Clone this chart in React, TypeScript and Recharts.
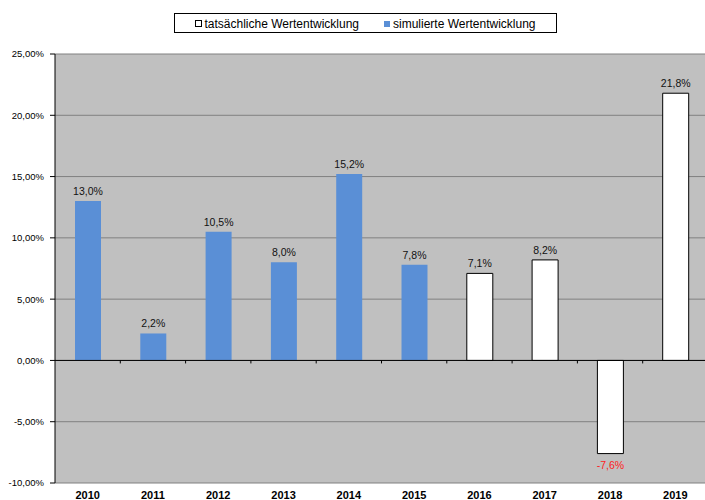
import { BarChart, Bar, XAxis, YAxis, CartesianGrid, ReferenceLine, LabelList, Legend } from 'recharts';

const years = ['2010', '2011', '2012', '2013', '2014', '2015', '2016', '2017', '2018', '2019'];
// simulierte Werte bis 2015, danach tatsächliche
const simulated = [13.0, 2.2, 10.5, 8.0, 15.2, 7.8, null, null, null, null];
const actual = [null, null, null, null, null, null, 7.1, 8.2, -7.6, 21.8];
const yTicks = [-10, -5, 0, 5, 10, 15, 20, 25];

const data = years.map((year, i) => ({ year, sim: simulated[i], ist: actual[i] }));

const BLUE = '#5a8fd6';
const FONT = '"Liberation Sans", Arial, sans-serif';
const fmtPct = (v: number) => v.toFixed(1).replace('.', ',') + '%';

const BarLabel = (props: any) => {
  const { x, y, width, height, value } = props;
  if (value === null || value === undefined) return null;
  const top = Math.min(y, y + height);
  const bottom = Math.max(y, y + height);
  const neg = value < 0;
  return (
    <text
      x={x + width / 2}
      y={neg ? bottom + 15 : top - 6}
      textAnchor="middle"
      fontSize={10.5}
      fontFamily={FONT}
      fill={neg ? '#ff2020' : '#111'}
    >
      {fmtPct(value)}
    </text>
  );
};

// Nulllinie mit kleinen Strichen zwischen den Kategorien
const ZeroLine = (props: any) => {
  const { x1, y1, x2 } = props;
  const step = (x2 - x1) / years.length;
  return (
    <g>
      <line x1={x1} y1={y1} x2={x2} y2={y1} stroke="#000" strokeWidth={1} />
      {years.slice(1).map((_, i) => (
        <line key={i} x1={x1 + step * (i + 1)} y1={y1} x2={x1 + step * (i + 1)} y2={y1 + 3} stroke="#000" />
      ))}
    </g>
  );
};

const LegendBox = () => (
  <div
    style={{
      boxSizing: 'border-box',
      border: '1px solid #000',
      background: '#fff',
      height: 20,
      paddingTop: 1,
      display: 'flex',
      alignItems: 'center',
      justifyContent: 'center',
      fontSize: 12,
      fontFamily: FONT,
      color: '#000',
      gap: 25,
    }}
  >
    <span style={{ display: 'flex', alignItems: 'center' }}>
      <span style={{ width: 5, height: 5, border: '1px solid #000', background: '#fff', marginRight: 2 }} />
      tatsächliche Wertentwicklung
    </span>
    <span style={{ display: 'flex', alignItems: 'center' }}>
      <span style={{ width: 6, height: 6, background: BLUE, marginRight: 3 }} />
      simulierte Wertentwicklung
    </span>
  </div>
);

export default function App() {
  return (
    <div
      style={{
        position: 'fixed',
        top: 0,
        left: 0,
        width: 705,
        height: 500,
        overflow: 'hidden',
        background: '#fff',
        fontFamily: FONT,
      }}
    >
      <BarChart width={708} height={500} data={data} margin={{ top: 54, right: 0, left: 0, bottom: 0 }}>
        <CartesianGrid vertical={false} fill="#c0c0c0" stroke="#808080" />
        <XAxis
          dataKey="year"
          axisLine={false}
          tickLine={false}
          height={17}
          tickSize={6}
          tick={{ fontSize: 11, fontWeight: 'bold', fill: '#000', fontFamily: FONT }}
        />
        <YAxis
          width={55}
          domain={[-10, 25]}
          ticks={yTicks}
          interval={0}
          tickFormatter={(v: number) => v.toFixed(2).replace('.', ',') + '%'}
          tick={{ fontSize: 9.5, fill: '#000', fontFamily: FONT }}
          tickSize={5}
          tickMargin={6}
          axisLine={{ stroke: '#000' }}
          tickLine={{ stroke: '#000' }}
        />
        <Legend
          verticalAlign="middle"
          layout="horizontal"
          content={<LegendBox />}
          wrapperStyle={{ top: 13, left: 174, width: 383 }}
        />
        <ReferenceLine y={0} shape={ZeroLine} />
        <Bar dataKey="sim" name="simulierte Wertentwicklung" stackId="a" fill={BLUE} barSize={26} isAnimationActive={false}>
          <LabelList dataKey="sim" content={BarLabel} />
        </Bar>
        <Bar
          dataKey="ist"
          name="tatsächliche Wertentwicklung"
          stackId="a"
          fill="#fff"
          stroke="#000"
          strokeWidth={1}
          barSize={26}
          isAnimationActive={false}
        >
          <LabelList dataKey="ist" content={BarLabel} />
        </Bar>
      </BarChart>
    </div>
  );
}
